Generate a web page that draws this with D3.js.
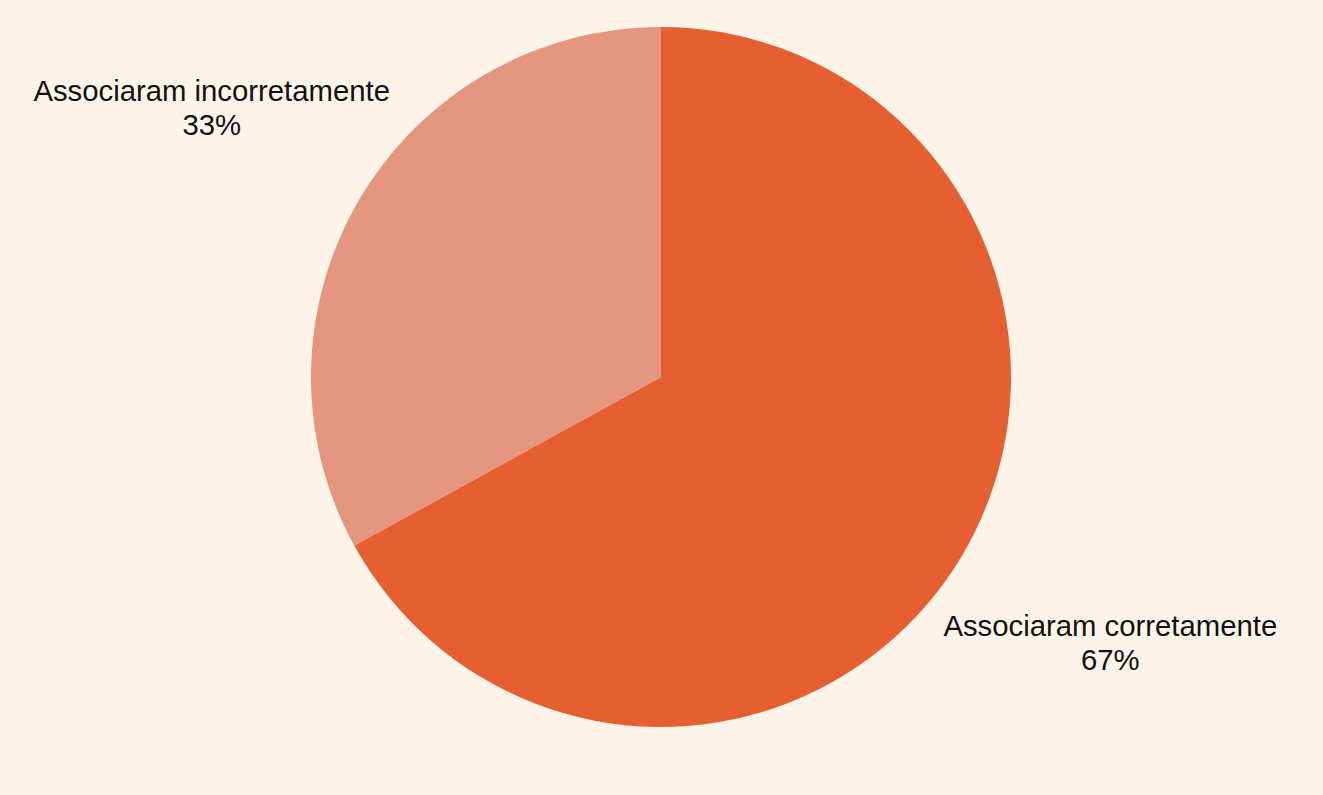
<!DOCTYPE html>
<html><head><meta charset="utf-8">
<script src="https://cdn.jsdelivr.net/npm/d3@7"></script>
<style>
html,body{margin:0;padding:0;background:#FDF3E9;}
svg{display:block;}
</style></head>
<body>
<svg id="chart" width="1323" height="795"></svg>
<script>
const categories = ["Associaram corretamente", "Associaram incorretamente"];
const values = [67, 33];
const percentLabels = ["67%", "33%"];
const colors = ["#E65F30", "#E5957E"];

const W = 1323, H = 795;
const cx = 661, cy = 377, R = 350;
const svg = d3.select("#chart");
svg.append("rect").attr("width", W).attr("height", H).attr("fill", "#FDF3E9");

const data = categories.map((c, i) => ({cat: c, value: values[i], pct: percentLabels[i], color: colors[i]}));
const pie = d3.pie().value(d => d.value).sort(null);
const arc = d3.arc().innerRadius(0).outerRadius(R);
const arcs = pie(data);

const g = svg.append("g").attr("transform", `translate(${cx},${cy})`);
g.selectAll("path").data(arcs).enter().append("path")
  .attr("d", arc).attr("fill", d => d.data.color);

const labelR = 522;
const labelArc = d3.arc().innerRadius(labelR).outerRadius(labelR);
const labels = g.selectAll("text.lbl").data(arcs).enter().append("text")
  .attr("class", "lbl")
  .attr("text-anchor", "middle")
  .attr("font-family", "'Liberation Sans', Arial, sans-serif")
  .attr("font-size", 29.3)
  .attr("fill", "#111")
  .attr("transform", d => {
    const [x, y] = labelArc.centroid(d);
    const off = y < 0 ? -10.3 : -6.7;
    return `translate(${x},${y + off})`;
  });
labels.append("tspan").attr("x", 0).attr("y", 0).text(d => d.data.cat);
labels.append("tspan").attr("x", 0).attr("y", 34).text(d => d.data.pct);
</script>
</body></html>
